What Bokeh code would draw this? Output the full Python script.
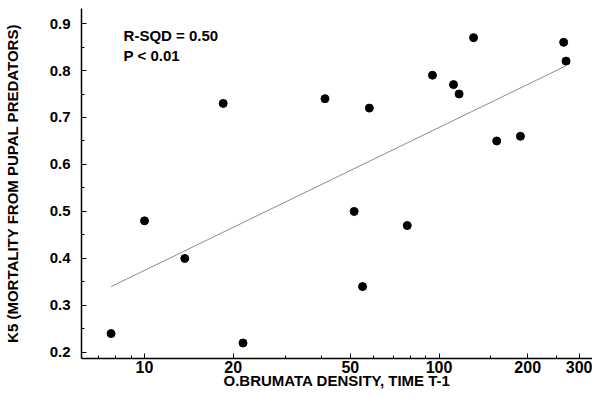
from bokeh.plotting import figure
from bokeh.models import Range1d, FixedTicker, Label
from bokeh.embed import file_html
from bokeh.resources import INLINE

# Data
density = [7.7, 10, 13.7, 18.5, 21.6, 41, 51.5, 55, 58, 78, 95, 112, 117, 131, 157, 189, 265, 270]
k5 = [0.24, 0.48, 0.40, 0.73, 0.22, 0.74, 0.50, 0.34, 0.72, 0.47, 0.79, 0.77, 0.75, 0.87, 0.65, 0.66, 0.86, 0.82]

fit_x = [7.7, 270]
fit_y = [0.34, 0.81]

x_ticks = [10, 20, 50, 100, 200, 300]
x_minor = [7, 8, 9, 30, 40, 60, 70, 80, 90, 150, 250]
y_ticks = [0.2, 0.3, 0.4, 0.5, 0.6, 0.7, 0.8, 0.9]
y_minor = [0.25, 0.35, 0.45, 0.55, 0.65, 0.75, 0.85]

FONT = "Liberation Sans"

p = figure(width=592, height=391, x_axis_type="log",
           x_range=Range1d(6.11, 332), y_range=Range1d(0.187, 0.932),
           output_backend="svg", toolbar_location=None,
           min_border_left=81, min_border_right=0, min_border_top=8, min_border_bottom=0)

p.outline_line_color = None
p.grid.visible = False
p.background_fill_color = "white"

# regression line
p.line(fit_x, fit_y, line_color="#8c8c8c", line_width=1)
# points
p.scatter(density, k5, size=8, color="black")

# axes styling
for ax in (p.xaxis[0], p.yaxis[0]):
    ax.axis_line_color = "black"
    ax.axis_line_width = 1.5
    ax.major_tick_line_color = "black"
    ax.minor_tick_line_color = "black"
    ax.major_tick_out = 0
    ax.major_tick_in = 5
    ax.minor_tick_out = 0
    ax.minor_tick_in = 3
    ax.major_label_text_font = FONT
    ax.major_label_text_font_style = "bold"
    ax.major_label_text_color = "black"
    ax.axis_label_text_font = FONT
    ax.axis_label_text_font_style = "bold"
    ax.axis_label_text_font_size = "15px"
    ax.axis_label_text_color = "black"

p.xaxis.ticker = FixedTicker(ticks=x_ticks, minor_ticks=x_minor)
p.xaxis.major_label_overrides = {t: str(t) for t in x_ticks}
p.xaxis.major_label_text_font_size = "16px"
p.xaxis.major_label_standoff = 2
p.xaxis.axis_label = "O.BRUMATA DENSITY, TIME T-1"
p.xaxis.axis_label_standoff = -4

p.yaxis.ticker = FixedTicker(ticks=y_ticks, minor_ticks=y_minor)
p.yaxis.major_label_overrides = {t: f"{t:.1f}" for t in y_ticks}
p.yaxis.major_label_text_font_size = "15px"
p.yaxis.major_label_standoff = 11
p.yaxis.axis_label = "K5 (MORTALITY FROM PUPAL PREDATORS)"
p.yaxis.axis_label_standoff = 26

p.add_layout(Label(x=8.49, y=0.892, text="R-SQD = 0.50", text_font=FONT,
                   text_font_style="bold", text_font_size="15px",
                   text_baseline="top", text_color="black"))
p.add_layout(Label(x=8.49, y=0.849, text="P < 0.01", text_font=FONT,
                   text_font_style="bold", text_font_size="15px",
                   text_baseline="top", text_color="black"))

open("out.html", "w").write(file_html(p, INLINE))
